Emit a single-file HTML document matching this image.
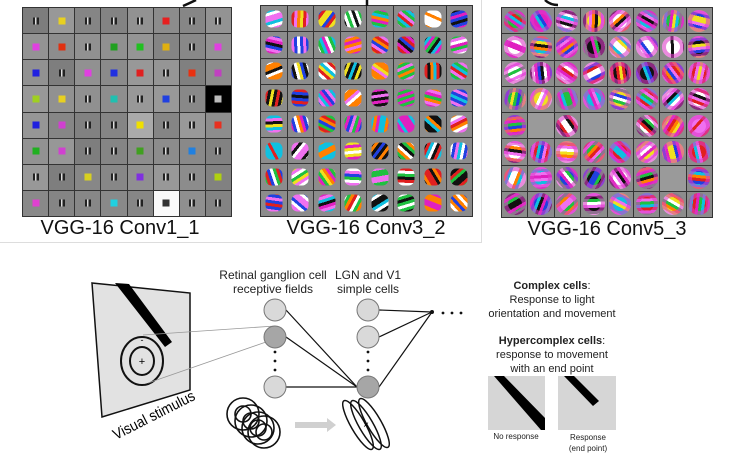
<!DOCTYPE html>
<html><head><meta charset="utf-8"><style>
body{margin:0;width:752px;height:457px;background:#fff;position:relative;overflow:hidden;font-family:"Liberation Sans",sans-serif}
.grid{position:absolute;display:grid;grid-template-columns:repeat(8,1fr);grid-template-rows:repeat(8,1fr);gap:1px;background:#333;border:1px solid #333;box-sizing:border-box}
.c{position:relative;background:#8a8a8a}
.c i{position:absolute;left:50%;top:50%;transform:translate(-50%,-50%);display:block}
.lbl{position:absolute;font-size:20px;color:#111;text-align:center;width:240px}
.t{position:absolute;text-align:center;color:#222;white-space:nowrap}
</style></head><body>
<div style="position:absolute;left:0;top:242px;width:482px;height:1px;background:#ddd"></div>
<div style="position:absolute;left:481px;top:0;width:1px;height:243px;background:#ddd"></div>
<div class="grid" id="g1" style="left:22px;top:7px;width:210px;height:210px"></div>
<div class="grid" id="g2" style="left:260px;top:5px;width:213px;height:212px"></div>
<div class="grid" id="g3" style="left:501px;top:7px;width:212px;height:211px"></div>
<div class="lbl" style="left:0;top:217px">VGG-16 Conv1_1</div>
<div class="lbl" style="left:246px;top:217px">VGG-16 Conv3_2</div>
<div class="lbl" style="left:487px;top:218px">VGG-16 Conv5_3</div>
<svg style="position:absolute;left:0;top:0" width="752" height="457">
<path d="M183,6 Q190,3 196,0" stroke="#111" stroke-width="2.5" fill="none"/>
<path d="M367,0 L367,6" stroke="#111" stroke-width="2.5"/>
<path d="M545,0 Q550,5 558,5" stroke="#111" stroke-width="2.5" fill="none"/>
<polygon points="92,283 190,293 190,390 102,417" fill="#e2e2e2" stroke="#111" stroke-width="1.5"/>
<polygon points="115,283 129,284 172,342 165,347" fill="#000"/>
<ellipse cx="142" cy="361" rx="21" ry="24" fill="none" stroke="#111" stroke-width="2"/>
<ellipse cx="142" cy="361" rx="12" ry="14" fill="none" stroke="#111" stroke-width="2"/>
<text x="142" y="343" font-size="9" text-anchor="middle">-</text>
<text x="142" y="365" font-size="11" text-anchor="middle">+</text>
<line x1="143" y1="335" x2="275" y2="326" stroke="#999" stroke-width="0.8"/>
<line x1="148" y1="383" x2="266" y2="342" stroke="#999" stroke-width="0.8"/>
<text x="0" y="0" font-size="15" font-family="Liberation Sans" textLength="90" lengthAdjust="spacingAndGlyphs" transform="translate(116,440) rotate(-27)">Visual stimulus</text>
<g stroke="#111" stroke-width="1.2">
<line x1="286" y1="310" x2="357" y2="387"/><line x1="286" y1="337" x2="357" y2="387"/><line x1="286" y1="387" x2="357" y2="387"/>
<line x1="379" y1="310" x2="432" y2="312"/><line x1="379" y1="337" x2="432" y2="312"/><line x1="379" y1="387" x2="432" y2="312"/>
</g>
<circle cx="432" cy="312" r="2" fill="#111"/>
<g fill="#111"><circle cx="443" cy="313" r="1.4"/><circle cx="452" cy="313" r="1.4"/><circle cx="461" cy="313" r="1.4"/>
<circle cx="275" cy="352" r="1.4"/><circle cx="275" cy="361" r="1.4"/><circle cx="275" cy="370" r="1.4"/>
<circle cx="368" cy="352" r="1.4"/><circle cx="368" cy="361" r="1.4"/><circle cx="368" cy="370" r="1.4"/></g>
<g stroke="#777" stroke-width="1">
<circle cx="275" cy="310" r="11" fill="#d9d9d9"/><circle cx="275" cy="337" r="11" fill="#a6a6a6"/><circle cx="275" cy="387" r="11" fill="#d9d9d9"/>
<circle cx="368" cy="310" r="11" fill="#d9d9d9"/><circle cx="368" cy="337" r="11" fill="#d9d9d9"/><circle cx="368" cy="387" r="11" fill="#a6a6a6"/>
</g>
<g fill="none" stroke="#111" stroke-width="1.6">
<circle cx="243" cy="414" r="16"/><circle cx="243" cy="414" r="8"/>
<circle cx="251" cy="421" r="16"/><circle cx="251" cy="421" r="8"/>
<circle cx="258" cy="428" r="16"/><circle cx="258" cy="428" r="8"/>
<circle cx="264" cy="432" r="16"/><circle cx="264" cy="432" r="8"/>
</g>
<polygon points="295,422 327,422 327,418 336,425 327,432 327,428 295,428" fill="#d0d0d0"/>
<g fill="none" stroke="#111" stroke-width="1.5">
<ellipse cx="358" cy="425" rx="7" ry="28" transform="rotate(-30 358 425)"/>
<ellipse cx="366" cy="425" rx="7" ry="28" transform="rotate(-30 366 425)"/>
<ellipse cx="374" cy="423" rx="7" ry="28" transform="rotate(-30 374 423)"/>
</g>
<text x="366" y="428" font-size="10" text-anchor="middle">×</text>
<polygon points="488,376 545,376 545,430 488,430" fill="#d6d6d6"/>
<polygon points="494,376 504,376 545,418 545,430 541,430" fill="#000"/>
<polygon points="558,376 616,376 616,430 558,430" fill="#d6d6d6"/>
<polygon points="564,376 574,376 599,401 593,406" fill="#000"/>
</svg>
<div class="t" style="left:193px;top:268px;width:160px;font-size:12px;line-height:14px">Retinal ganglion cell<br>receptive fields</div>
<div class="t" style="left:308px;top:268px;width:120px;font-size:12px;line-height:14px">LGN and V1<br>simple cells</div>
<div class="t" style="left:472px;top:279px;width:160px;font-size:11px;line-height:14px"><b style="font-weight:600">Complex cells</b>:<br>Response to light<br>orientation and movement</div>
<div class="t" style="left:472px;top:334px;width:160px;font-size:11px;line-height:14px"><b style="font-weight:600">Hypercomplex cells</b>:<br>response to movement<br>with an end point</div>
<div class="t" style="left:480px;top:432px;width:72px;font-size:8px">No response</div>
<div class="t" style="left:552px;top:432px;width:72px;font-size:8px;line-height:11px">Response<br>(end point)</div>
<script>
var s=7;function r(){s=(s*16807)%2147483647;return s/2147483647;}
var C1=[["p","#e8d020","p","p","p","#e82020","p","p"],["#e040e0","#e03010","p","#20a020","#20c020","#e0b010","p","#e040e0"],["#2020e0","p","#e040e0","#2030e0","#e02020","p","#e83010","#c040c0"],["#a0d020","#e8d020","p","#20c0b0","p","#2040e0","p","K"],["#2020e0","#d040d0","p","p","#f0e000","p","p","#e83020"],["#20b020","#d040d0","p","p","#40a020","p","#2080e0","p"],["p","p","#d8d020","p","#8030e0","p","p","#b0d010"],["#e040d0","p","p","#20d0e0","p","W","p","p"]];
var g=document.getElementById('g1');
C1.forEach(function(row,i){row.forEach(function(v,j){var d=document.createElement('div');d.className='c';var sh=Math.floor(125+r()*30);d.style.background='rgb('+sh+','+sh+','+sh+')';var e=document.createElement('i');
if(v=='p'){e.style.cssText='width:6px;height:7px;background:linear-gradient(90deg,#222 0 30%,#ddd 30% 60%,#222 60%)';}
else if(v=='K'){d.style.background='#000';e.style.cssText='width:7px;height:7px;background:#bbb';}
else if(v=='W'){d.style.background='#fafafa';e.style.cssText='width:7px;height:7px;background:#333';}
else{e.style.cssText='width:7px;height:7px;background:'+v;if(i==4&&j==4)d.style.background='#aaa';}
d.appendChild(e);g.appendChild(d);});});
var cols=['#e020c0','#20c040','#2040e0','#f0e020','#10c0e0','#e02020','#f070f0','#111','#fff','#ff8000'];
function pick(){return cols[Math.floor(r()*cols.length)];}
function blob(id,round,sz){var g=document.getElementById(id);for(var k=0;k<64;k++){var d=document.createElement('div');d.className='c';d.style.background='#8c8c8c';var e=document.createElement('i');
if(id=='g3'&&(k==33||k==35||k==36||k==54)){d.style.background='#9a9a9a';g.appendChild(d);continue;}
var a=Math.floor(r()*180);e.style.cssText='width:'+sz+'px;height:'+sz+'px;border-radius:'+round+';background:repeating-linear-gradient('+a+'deg,'+pick()+' 0 3px,'+pick()+' 3px 6px,'+pick()+' 6px 9px,'+pick()+' 9px 12px)';
if(id=='g3')e.style.boxShadow='inset 0 0 0 4px rgba(220,60,200,.6)';
d.appendChild(e);g.appendChild(d);}}
blob('g2','35%',17);blob('g3','50%',22);
</script>
</body></html>
